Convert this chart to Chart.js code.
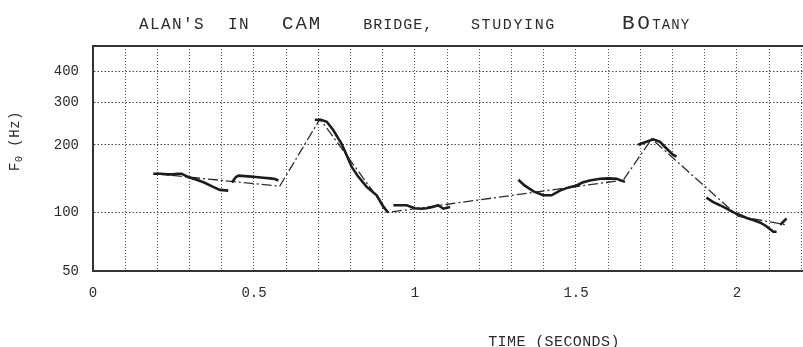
<!DOCTYPE html>
<html lang="en">

<head>
    <meta charset="utf-8">
    <title>F0 contour - Alan's in Cambridge</title>
    <script src="https://cdn.jsdelivr.net/npm/chart.js"></script>
    <style>
        body {
            margin: 0;
            background: #fff;
        }

        #wrap {
            width: 803px;
            height: 347px;
        }
    </style>
</head>

<body>
    <div id="wrap"><canvas id="f0Chart"></canvas></div>

    <script>
        // measured F0 contour (seconds / Hz), null = voicing break
        const rawTime = [
            0.187, 0.21, 0.23, 0.249, 0.262, 0.275, 0.295, 0.322, 0.345, 0.373, 0.394, 0.42, 0.425,
            0.431, 0.444, 0.452, 0.482, 0.505, 0.529, 0.55, 0.565, 0.576, 0.58,
            0.689, 0.71, 0.726, 0.746, 0.772, 0.79, 0.803, 0.823, 0.85, 0.881, 0.902, 0.917, 0.925,
            0.933, 0.95, 0.974, 1.0, 1.02, 1.036, 1.055, 1.072, 1.088, 1.109, 1.115,
            1.321, 1.34, 1.368, 1.398, 1.424, 1.45, 1.475, 1.502, 1.52, 1.543, 1.575, 1.6, 1.626, 1.652, 1.66,
            1.693, 1.719, 1.74, 1.761, 1.781, 1.802, 1.812, 1.82,
            1.905, 1.925, 1.947, 1.968, 1.989, 2.01, 2.03, 2.05, 2.071, 2.09, 2.113, 2.123, 2.128,
            2.134, 2.154
        ];
        const rawF0 = [
            150, 150, 149, 149, 150, 150, 145, 141, 137, 131, 127, 126, null,
            137, 145, 147, 146, 145, 144, 143, 142, 140, null,
            255, 254, 250, 231, 202, 178, 161, 146, 131, 120, 106, 99.5, null,
            108, 108, 108, 104.5, 104, 104.5, 106, 108, 104, 106, null,
            141, 133, 125, 120, 120, 126, 130, 133, 137, 140, 142.5, 143, 142.5, 138, null,
            200, 206, 211, 206, 193, 181, 178, null,
            117, 112, 108, 104, 100, 97, 94, 92, 89.5, 86, 80.5, 80.5, null,
            87, 93.5
        ];

        // stylised (dash-dot) contour
        const styTime = [0.19, 0.58, 0.705, 0.917, 1.647, 1.735, 2.003, 2.154];
        const styF0 = [150, 132, 257, 100, 140.5, 212, 96, 87];

        const yTickValues = [50, 100, 200, 300, 400];
        const xLabelValues = [0, 0.5, 1, 1.5, 2];

        // words of the utterance and the time (s) where each starts
        const words = ["ALAN'S", "IN", "CAM", "BRIDGE,", "STUDYING", "BO", "TANY"];
        const wordTimes = [0.143, 0.419, 0.587, 0.839, 1.174, 1.643, null];

        const MONO = '"Liberation Mono", "DejaVu Sans Mono", monospace';
        const INK = '#2b2b2b';

        // frequency axis of the plot is log(f + 25), not a pure log
        const F_SHIFT = 25;
        class ShiftedLogScale extends Chart.LogarithmicScale {
            _t(v) { return Math.log(v + F_SHIFT); }
            getPixelForValue(value) {
                if (value === undefined || value === null) value = this.min;
                const a = this._t(this.min), b = this._t(this.max);
                return this.getPixelForDecimal((this._t(value) - a) / (b - a));
            }
            getValueForPixel(pixel) {
                const a = this._t(this.min), b = this._t(this.max);
                return Math.exp(a + this.getDecimalForPixel(pixel) * (b - a)) - F_SHIFT;
            }
        }
        ShiftedLogScale.id = 'shiftedlog';
        Chart.register(ShiftedLogScale);

        const toPoints = (xs, ys) => xs.map((x, i) => ({ x: x, y: ys[i] }));

        // word sizes: [font px, letter spacing px]
        const wordStyle = [[16, 1.4], [16, 1.4], [19, 2], [15, 1], [15, 1.6], [21, 2.5], [14, 1.1]];

        const textPlugin = {
            id: 'textPlugin',
            afterDraw(chart) {
                const ctx = chart.ctx;
                const area = chart.chartArea;
                const xs = chart.scales.x;
                ctx.save();
                ctx.fillStyle = INK;

                // frame top line
                ctx.strokeStyle = '#333';
                ctx.lineWidth = 2;
                ctx.beginPath();
                ctx.moveTo(area.left, area.top);
                ctx.lineTo(area.right, area.top);
                ctx.stroke();

                // words along the top
                ctx.textBaseline = 'alphabetic';
                ctx.textAlign = 'left';
                let nextX = 0;
                words.forEach((w, i) => {
                    const [size, sp] = wordStyle[i];
                    ctx.font = size + 'px ' + MONO;
                    ctx.letterSpacing = sp + 'px';
                    const x = wordTimes[i] === null ? nextX : xs.getPixelForValue(wordTimes[i]);
                    ctx.fillText(w, x, 29);
                    nextX = x + ctx.measureText(w).width;
                });

                // x title
                ctx.font = '15px ' + MONO;
                ctx.letterSpacing = '0.4px';
                ctx.textAlign = 'center';
                ctx.textBaseline = 'middle';
                ctx.fillText('TIME (SECONDS)', 554, 342);

                // y title: F0 (Hz), subscript zero
                ctx.translate(15, 141);
                ctx.rotate(-Math.PI / 2);
                ctx.letterSpacing = '0.5px';
                ctx.textAlign = 'left';
                ctx.font = '14px ' + MONO;
                const wF = ctx.measureText('F').width;
                ctx.font = '10px ' + MONO;
                const w0 = ctx.measureText('0').width;
                ctx.font = '14px ' + MONO;
                const wR = ctx.measureText(' (Hz)').width;
                let x0 = -(wF + w0 + wR) / 2;
                ctx.fillText('F', x0, 0);
                ctx.font = '10px ' + MONO;
                ctx.fillText('0', x0 + wF, 4);
                ctx.font = '14px ' + MONO;
                ctx.fillText(' (Hz)', x0 + wF + w0, 0);
                ctx.restore();
            }
        };

        const config = {
            type: 'line',
            data: {
                datasets: [{
                    label: 'F0',
                    data: toPoints(rawTime, rawF0),
                    borderColor: '#1c1c1c',
                    borderWidth: 2.6,
                    pointRadius: 0,
                    spanGaps: false,
                    tension: 0
                }, {
                    label: 'stylised',
                    data: toPoints(styTime, styF0),
                    borderColor: '#2e2e2e',
                    borderWidth: 1.3,
                    borderDash: [10, 3, 2, 3],
                    pointRadius: 0,
                    tension: 0
                }]
            },
            options: {
                responsive: true,
                maintainAspectRatio: false,
                animation: false,
                layout: { padding: { top: 46, left: 0, right: 0, bottom: 0 } },
                scales: {
                    x: {
                        type: 'linear',
                        min: 0,
                        max: 2.205,
                        afterFit: (s) => { s.height = 76; s.paddingRight = 0; },
                        grid: { color: '#555', lineWidth: 1, drawTicks: false },
                        border: { display: true, color: '#333', width: 2, dash: [1, 2] },
                        ticks: {
                            stepSize: 0.1,
                            includeBounds: false,
                            autoSkip: false,
                            maxRotation: 0,
                            padding: 14,
                            color: INK,
                            font: { family: MONO, size: 14 },
                            callback: (v) => xLabelValues.some(t => Math.abs(t - v) < 1e-6) ? String(v) : ''
                        }
                    },
                    y: {
                        type: 'shiftedlog',
                        min: 50,
                        max: 507,
                        afterFit: (s) => { s.width = 93; },
                        afterBuildTicks: (s) => { s.ticks = yTickValues.map(v => ({ value: v })); },
                        grid: { color: '#444', lineWidth: 1, drawTicks: false },
                        border: { display: true, color: '#333', width: 2, dash: [1.5, 2] },
                        ticks: {
                            padding: 14,
                            color: INK,
                            major: { enabled: false },
                            font: { family: MONO, size: 14 },
                            callback: (v) => String(v)
                        }
                    }
                },
                plugins: {
                    legend: { display: false },
                    tooltip: { enabled: false }
                }
            },
            plugins: [textPlugin]
        };

        const f0Chart = new Chart(document.getElementById('f0Chart'), config);
    </script>
</body>

</html>
